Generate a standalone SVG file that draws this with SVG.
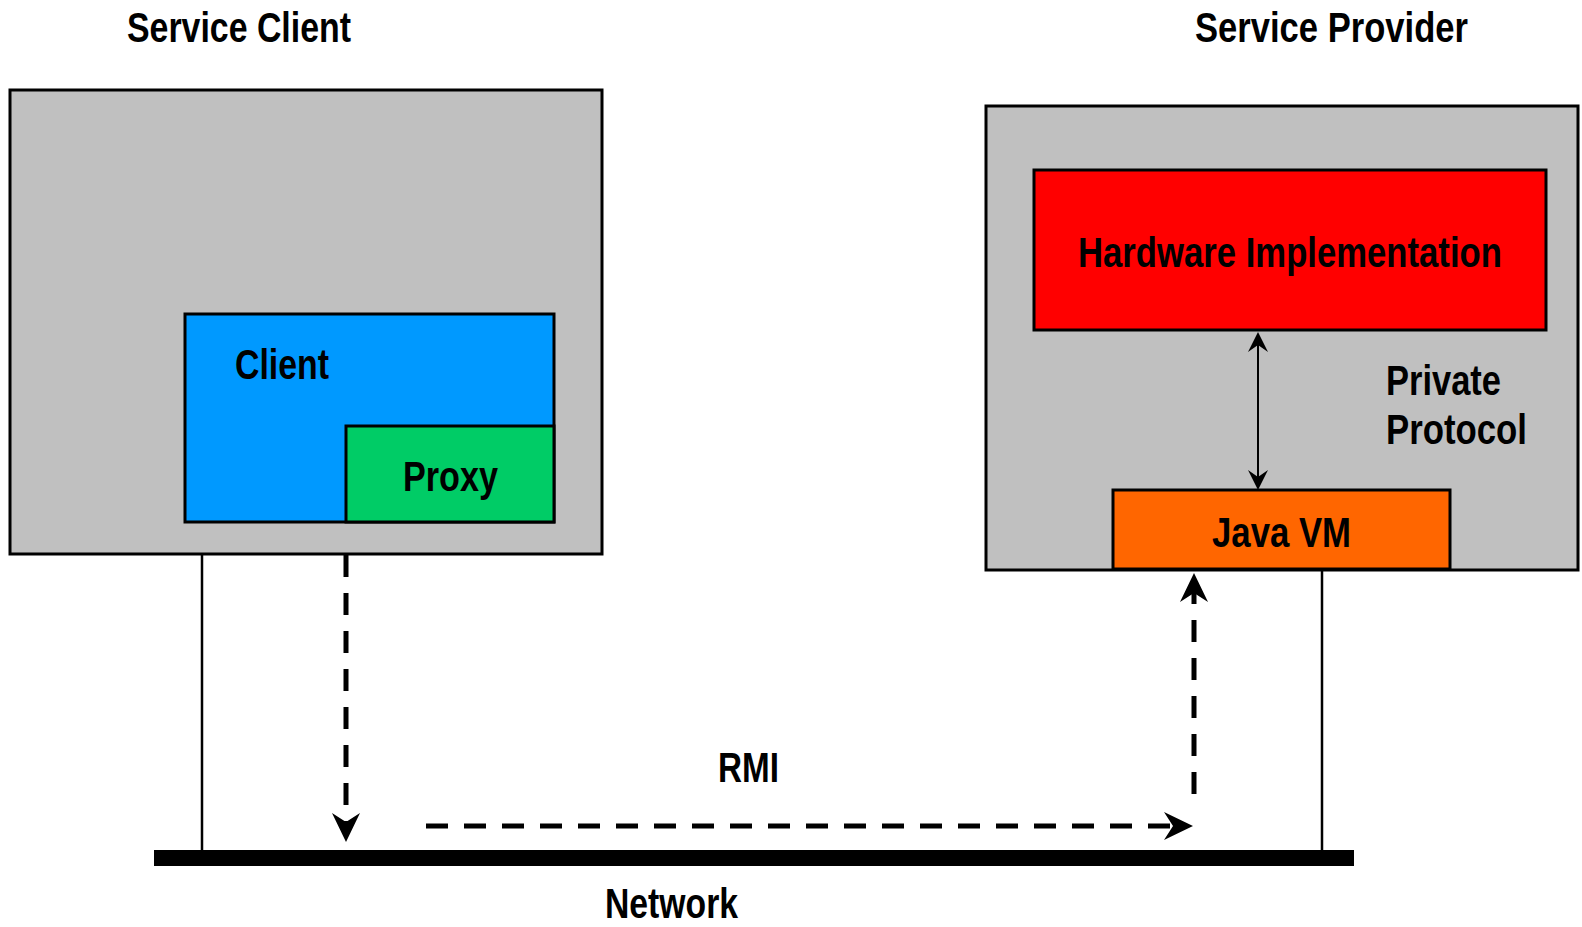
<svg xmlns="http://www.w3.org/2000/svg" width="1582" height="927" viewBox="0 0 1582 927">
  <style>
    .box { stroke: #000; stroke-width: 3; }
    .outer { fill: #C0C0C0; }
    .lbl { font-family: "Liberation Sans", Arial, sans-serif; font-weight: bold; font-size: 42px; fill: #000; }
    .wire { stroke: #000; stroke-width: 2.5; fill: none; }
    .dash { stroke: #000; stroke-width: 5; fill: none; stroke-dasharray: 22 16; }
    .thin { stroke: #000; stroke-width: 2; fill: none; }
  </style>
  <defs>
    <marker id="bigArrow" markerUnits="userSpaceOnUse" viewBox="-30 -15 32 30" markerWidth="32" markerHeight="30" refX="-20" refY="0" orient="auto">
      <path d="M0,0 L-29,-14 L-20,0 L-29,14 Z" fill="#000"/>
    </marker>
    <marker id="smallArrow" markerUnits="userSpaceOnUse" viewBox="-22 -11 24 22" markerWidth="24" markerHeight="22" refX="-13" refY="0" orient="auto-start-reverse">
      <path d="M0,0 L-20,-10 L-13,0 L-20,10 Z" fill="#000"/>
    </marker>
  </defs>

  <rect width="1582" height="927" fill="#FFFFFF"/>

  <g id="title-client"><text class="lbl" x="127" y="42" textLength="224" lengthAdjust="spacingAndGlyphs">Service Client</text></g>
  <g id="title-provider"><text class="lbl" x="1195" y="42" textLength="273" lengthAdjust="spacingAndGlyphs">Service Provider</text></g>

  <g id="service-client">
    <rect class="box outer" x="10" y="90" width="592" height="464"/>
  </g>
  <g id="client">
    <rect class="box" x="185" y="314" width="369" height="208" fill="#0099FF"/>
    <text class="lbl" x="235" y="379" textLength="94" lengthAdjust="spacingAndGlyphs">Client</text>
  </g>
  <g id="proxy">
    <rect class="box" x="346" y="426" width="208" height="96" fill="#00CC66"/>
    <text class="lbl" x="403" y="491" textLength="95" lengthAdjust="spacingAndGlyphs">Proxy</text>
  </g>

  <g id="service-provider">
    <rect class="box outer" x="986" y="106" width="592" height="464"/>
  </g>
  <g id="hardware">
    <rect class="box" x="1034" y="170" width="512" height="160" fill="#FF0000"/>
    <text class="lbl" transform="translate(1078,267) scale(0.826,1)" x="0" y="0">Hardware Implementation</text>
  </g>
  <g id="javavm">
    <rect class="box" x="1113" y="490" width="337" height="79" fill="#FF6600"/>
    <text class="lbl" x="1212" y="547" textLength="139" lengthAdjust="spacingAndGlyphs">Java VM</text>
  </g>

  <g id="network">
    <rect x="154" y="850" width="1200" height="16" fill="#000"/>
    <text class="lbl" x="605" y="918" textLength="133" lengthAdjust="spacingAndGlyphs">Network</text>
  </g>

  <g id="connectors">
    <line class="wire" x1="202" y1="554" x2="202" y2="850"/>
    <line class="wire" x1="1322" y1="570" x2="1322" y2="850"/>
    <path class="dash" d="M346,555 L346,822" marker-end="url(#bigArrow)"/>
    <path class="dash" d="M426,826 L1173,826" marker-end="url(#bigArrow)"/>
    <path class="dash" d="M1194,794 L1194,593" marker-end="url(#bigArrow)"/>
    <path class="thin" d="M1258,345 L1258,477" marker-start="url(#smallArrow)" marker-end="url(#smallArrow)"/>
  </g>

  <g id="labels">
    <text class="lbl" x="1386" y="395" textLength="115" lengthAdjust="spacingAndGlyphs">Private</text>
    <text class="lbl" x="1386" y="444" textLength="141" lengthAdjust="spacingAndGlyphs">Protocol</text>
    <text class="lbl" x="718" y="782" textLength="61" lengthAdjust="spacingAndGlyphs">RMI</text>
  </g>
</svg>
